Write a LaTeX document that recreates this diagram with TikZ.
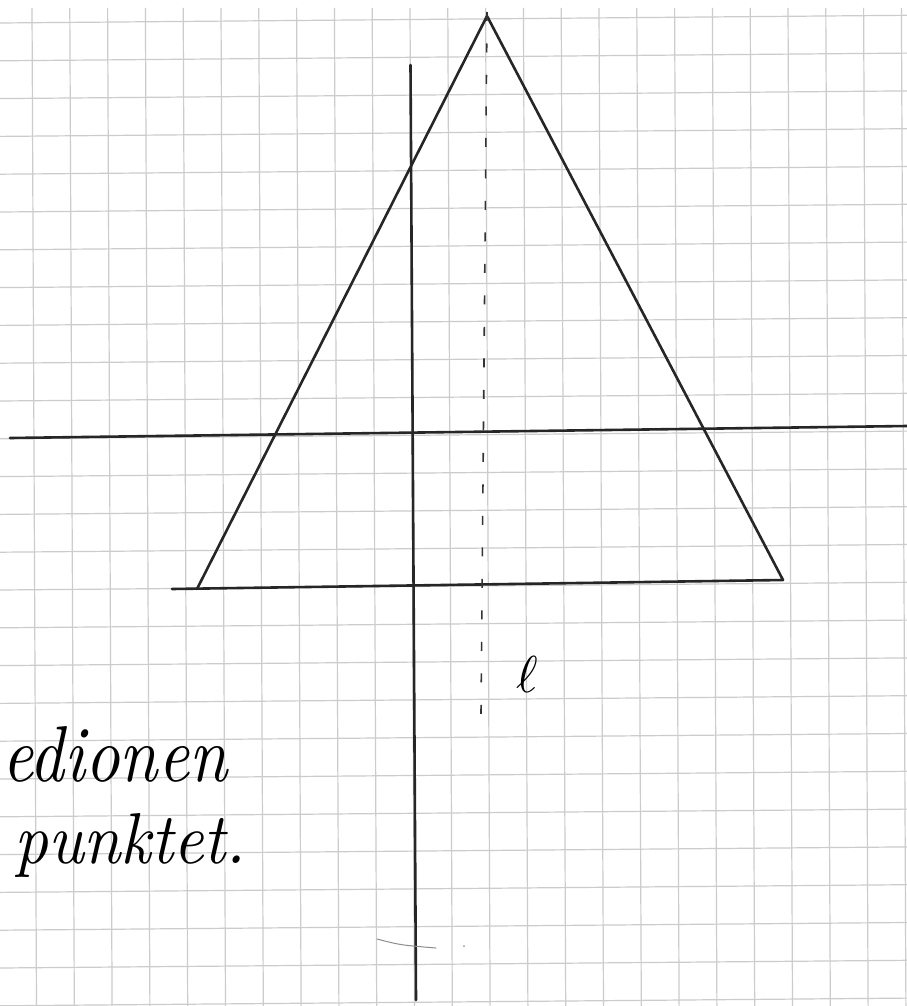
\documentclass[tikz,border=0pt]{standalone}
\usepackage{graphicx}
\begin{document}
\begin{tikzpicture}[x=1pt,y=-1pt,
  gridline/.style={draw=black!20,line width=1.2pt},
  pen/.style={draw=black!85,line width=2.6pt,line cap=round,line join=round},
  dashpen/.style={draw=black!80,line width=1.6pt,dash pattern=on 9pt off 22.5pt},
  faint/.style={draw=black!45,line width=1pt,line cap=round}]
\useasboundingbox (0,0) rectangle (907,1006);
\fill[white] (0,0) rectangle (907,1006);
% grid paper
\foreach \k in {0,...,23}{\draw[gridline] ({32.0+37.8*\k},8) -- ({36.5+37.8*\k},1006);}
\foreach \k in {0,...,26}{\draw[gridline] (0,{23+37.8*\k}) -- (907,{15.3+37.8*\k});}
% named points
\coordinate (A) at (487,16);
\coordinate (B) at (197,589);
\coordinate (C) at (783,580);
\coordinate (b1) at (172,589);
\coordinate (h1) at (10,438);
\coordinate (h2) at (907,426);
\coordinate (v1) at (410.5,65);
\coordinate (v2) at (416,1000);
\coordinate (d1) at (487,12);
\coordinate (d2) at (481,714);
\coordinate (s1) at (377,939);
\coordinate (s2) at (436,948);
% lines
\draw[pen] (B) -- (A) -- (C);
\draw[pen] (b1) -- (C);
\draw[pen] (h1) -- (h2);
\draw[pen] (v1) -- (v2);
\draw[dashpen] (d1) -- (d2);
\draw[faint] (s1) .. controls (400,945) .. (s2);
\fill[black!40] (464,946) circle (1pt);
% labels
\node[anchor=base,inner sep=0pt] (lab) at (527,692) {\resizebox{!}{36pt}{$\ell$}};
\node[anchor=base west,inner sep=0pt] (t1) at (2,781) {\resizebox{225pt}{55pt}{\itshape edionen}};
\node[anchor=base west,inner sep=0pt] (t2) at (14,863) {\resizebox{232pt}{50pt}{\itshape punktet.}};
\end{tikzpicture}
\end{document}
